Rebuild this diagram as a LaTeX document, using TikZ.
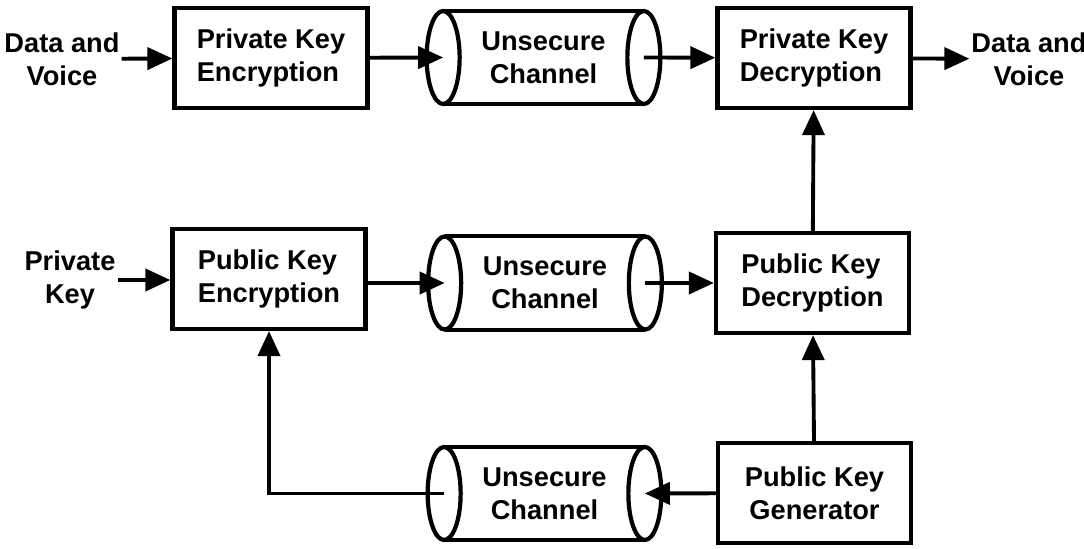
\documentclass[tikz,border=0pt]{standalone}
\usepackage{fontspec}
\setmainfont{Liberation Sans}
\usetikzlibrary{arrows.meta}
\tikzset{
  blok/.style={draw, line width=2.4pt, minimum width=3.86cm, minimum height=2cm, align=left},
  chan/.style={minimum width=4cm, minimum height=1.86cm, inner sep=0pt, align=center},
  labl/.style={align=center, inner sep=1pt},
  arr/.style={line width=2.2pt, -{Triangle[length=0.5cm,width=0.44cm]}},
  tube/.style={line width=2.4pt}
}
\newcommand{\blok}[4]{\node[blok] (#1) at ( #2 , #3 ) {#4};}
\newcommand{\chan}[3]{\node[chan] (#1) at ( #2 , #3 ) {Unsecure\\Channel};
  \draw[tube] (#1.north west) -- (#1.north east);
  \draw[tube] (#1.south west) -- (#1.south east);
  \draw[tube] (#1.west) ellipse [x radius=0.33cm, y radius=0.93cm];
  \draw[tube] (#1.east) ellipse [x radius=0.33cm, y radius=0.93cm];}

\begin{document}
\begin{tikzpicture}[font=\bfseries\fontsize{15.5}{19}\selectfont]
        \useasboundingbox (0,0) rectangle (21.68,10.96);
        % row1
        \node[labl] (din) at (1.24,9.78) {Data and\\Voice};
        \blok{privenc}{5.42}{9.8}{Private Key\\Encryption}
        \chan{ch1}{10.87}{9.81}
        \blok{privdec}{16.28}{9.8}{Private Key\\Decryption}
        \node[labl] (dout) at (20.58,9.78) {Data and\\Voice};
        % row2
        \node[labl] (pkey) at (1.4,5.36) {Private\\Key};
        \blok{pubenc}{5.38}{5.38}{Public Key\\Encryption}
        \chan{ch2}{10.9}{5.3}
        \blok{pubdec}{16.25}{5.3}{Public Key\\Decryption}
        % row3
        \chan{ch3}{10.89}{1.09}
        \node[blok, align=center] (pubgen) at (16.29,1.1) {Public Key\\Generator};
        % arrows row1
        \draw[arr] (din) -- (privenc);
        \draw[arr] (privenc) -- (ch1.west);
        \draw[arr] (ch1.east) -- (privdec);
        \draw[arr] (privdec) -- (dout);
        % arrows row2
        \draw[arr] (pkey) -- (pkey -| pubenc.west);
        \draw[arr] (pubenc.east |- ch2.west) -- (ch2.west);
        \draw[arr] (ch2.east) -- (ch2.east -| pubdec.west);
        \draw[arr] (pubdec) -- (privdec);
        % arrows row3
        \draw[arr] (pubgen) -- (pubdec);
        \draw[arr] (pubgen) -- (ch3.east);
        \draw[arr] (ch3.west) -| (pubenc.south);
\end{tikzpicture}
\end{document}
